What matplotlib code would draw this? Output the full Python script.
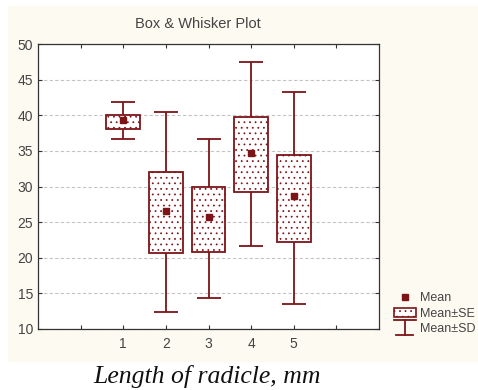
import matplotlib
matplotlib.use('agg')
import matplotlib.pyplot as plt
from matplotlib.patches import Patch, Rectangle
from matplotlib.lines import Line2D
from matplotlib.legend_handler import HandlerBase
import numpy as np

groups = [1, 2, 3, 4, 5]
means = [39.35, 26.6, 25.7, 34.7, 28.7]
se_low = [38.1, 20.6, 20.85, 29.25, 22.25]
se_high = [40.1, 32.0, 30.0, 39.75, 34.4]
sd_low = [36.7, 12.45, 14.3, 21.7, 13.5]
sd_high = [41.8, 40.4, 36.7, 47.5, 43.3]

RED = '#7d1518'
TXT = '#444444'

plt.rcParams['font.family'] = ['Liberation Sans', 'DejaVu Sans']
plt.rcParams['hatch.linewidth'] = 0.55


class SDHandler(HandlerBase):
    def create_artists(self, legend, orig_handle, xd, yd, w, h, fontsize, trans):
        cx = xd + w / 2
        top = yd + h * 1.15
        bot = yd - h * 0.35
        l1 = Line2D([xd, xd + w], [top, top], color=RED, lw=1.3, transform=trans)
        l2 = Line2D([cx, cx], [top, bot], color=RED, lw=1.3, transform=trans)
        l3 = Line2D([xd + w * 0.1, xd + w * 0.9], [bot, bot], color=RED, lw=1.3, transform=trans)
        return [l1, l2, l3]


fig = plt.figure(figsize=(4.78, 3.90), dpi=100)
fig.patch.set_facecolor('white')
fig.patches.append(Rectangle((8 / 478, (390 - 362) / 390), 470 / 478, (362 - 6) / 390,
                             transform=fig.transFigure, facecolor='#fdfaf1', edgecolor='none', zorder=-10))

ax = fig.add_axes([38 / 478, 61 / 390, 341 / 478, 285 / 390])
ax.set_facecolor('white')

x = np.array(groups)
m = np.array(means)
yerr = [m - np.array(sd_low), np.array(sd_high) - m]
ax.errorbar(x, m, yerr=yerr, fmt='none', ecolor=RED, elinewidth=1.3,
            capsize=8.3, capthick=1.3, zorder=2)
ax.bar(x, np.array(se_high) - np.array(se_low), bottom=se_low, width=0.79,
       facecolor='white', edgecolor=RED, linewidth=1.3, hatch='...', zorder=3)
ax.plot(x, m, ls='', marker='s', ms=4.5, color=RED, zorder=4)

ax.set_xlim(-1, 7)
ax.set_ylim(10, 50)
ax.set_xticks(range(0, 7))
ax.set_xticklabels(['', '1', '2', '3', '4', '5', ''])
ax.set_yticks(range(10, 51, 5))
ax.yaxis.grid(True, color='#c4c4c4', ls=(0, (3, 2)), lw=0.8)
ax.set_axisbelow(True)
ax.tick_params(direction='in', top=True, right=True, length=3, color='#333333',
               labelsize=10, labelcolor=TXT)
ax.tick_params(axis='x', pad=6)
for s in ax.spines.values():
    s.set_color('#333333')
    s.set_linewidth(0.9)

fig.text(198 / 478, (390 - 24) / 390, 'Box & Whisker Plot', ha='center', va='center',
         fontsize=10.5, color=TXT)

handles = [Line2D([], [], ls='', marker='s', ms=4.5, color=RED),
           Patch(facecolor='white', edgecolor=RED, hatch='...', lw=1.2),
           'sd']
leg = fig.legend(handles, ['Mean', 'Mean±SE', 'Mean±SD'],
                 handler_map={str: SDHandler()},
                 loc='upper left', bbox_to_anchor=(388 / 478, (390 - 286) / 390),
                 frameon=False, fontsize=9, handlelength=1.7, handleheight=0.8,
                 handletextpad=0.35, labelspacing=0.25, borderpad=0, labelcolor=TXT)

fig.text(207 / 478, (390 - 377) / 390, 'Length of radicle, mm', ha='center', va='center',
         fontsize=18.5, style='italic', family=['Liberation Serif', 'DejaVu Serif'], color='#111111')

plt.savefig('out.png', dpi=100)
